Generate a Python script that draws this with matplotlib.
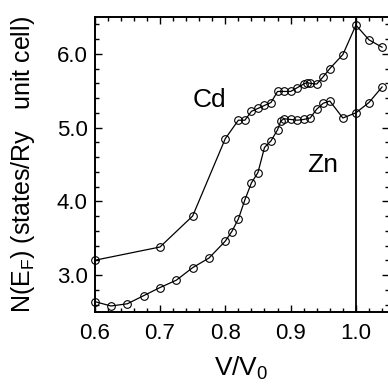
import numpy as np
import matplotlib; matplotlib.use('Agg')
import matplotlib.pyplot as plt
from matplotlib.ticker import MultipleLocator

plt.rcParams['font.family'] = ['Liberation Sans', 'DejaVu Sans']
plt.rcParams['mathtext.fontset'] = 'custom'
plt.rcParams['mathtext.rm'] = 'Liberation Sans'
plt.rcParams['mathtext.it'] = 'Liberation Sans'

# Cd
cd_v = [0.60, 0.70, 0.75, 0.80, 0.82, 0.83, 0.84, 0.85, 0.86, 0.87, 0.88, 0.89,
        0.90, 0.91, 0.92, 0.925, 0.93, 0.94, 0.95, 0.96, 0.98, 1.00, 1.02, 1.04]
cd_n = [3.20, 3.38, 3.80, 4.85, 5.10, 5.10, 5.22, 5.26, 5.30, 5.34, 5.49, 5.49,
        5.49, 5.54, 5.59, 5.61, 5.60, 5.59, 5.69, 5.80, 5.99, 6.39, 6.19, 6.09]

# Zn
zn_v = [0.600, 0.625, 0.650, 0.675, 0.700, 0.725, 0.750, 0.775, 0.80, 0.81, 0.82,
        0.83, 0.84, 0.85, 0.86, 0.87, 0.88, 0.885, 0.89, 0.90, 0.91, 0.92, 0.93,
        0.94, 0.95, 0.96, 0.98, 1.00, 1.02, 1.04]
zn_n = [2.64, 2.58, 2.61, 2.72, 2.83, 2.93, 3.10, 3.23, 3.46, 3.59, 3.76,
        4.02, 4.25, 4.39, 4.73, 4.82, 4.97, 5.09, 5.12, 5.11, 5.10, 5.11, 5.13,
        5.25, 5.33, 5.36, 5.13, 5.20, 5.34, 5.55]

fig = plt.figure(figsize=(3.88, 3.86), dpi=100)
ax = fig.add_axes([0.244, 0.192, 0.7575, 0.764])

mk = dict(marker='o', ms=5.5, mfc='none', mec='black', mew=0.8,
          color='black', lw=0.9, clip_on=False)
ax.plot(cd_v, cd_n, **mk)
ax.plot(zn_v, zn_n, **mk)
ax.axvline(1.0, color='black', lw=1.3)

ax.text(0.775, 5.37, 'Cd', fontsize=19, ha='center', va='center')
ax.text(0.9495, 4.49, 'Zn', fontsize=19, ha='center', va='center')

ax.set_xlim(0.6, 1.05)
ax.set_ylim(2.5, 6.5)
ax.xaxis.set_major_locator(MultipleLocator(0.1))
ax.xaxis.set_minor_locator(MultipleLocator(0.02))
ax.yaxis.set_major_locator(MultipleLocator(1.0))
ax.yaxis.set_minor_locator(MultipleLocator(0.2))
ax.xaxis.set_major_formatter(plt.FormatStrFormatter('%.1f'))
ax.yaxis.set_major_formatter(plt.FormatStrFormatter('%.1f'))
ax.tick_params(which='both', direction='in', top=True, right=True, width=1.0)
ax.tick_params(which='major', length=5, labelsize=16)
ax.tick_params(axis='x', which='major', pad=8)
ax.tick_params(axis='y', which='major', pad=5)
ax.tick_params(which='minor', length=3)
for s in ax.spines.values():
    s.set_linewidth(1.4)

ax.set_xlabel('V/V$_0$', fontsize=19, labelpad=8)
ax.set_ylabel('N(E$_F$) (states/Ry   unit cell)', fontsize=18, labelpad=14)

fig.savefig('out.png', dpi=100)
